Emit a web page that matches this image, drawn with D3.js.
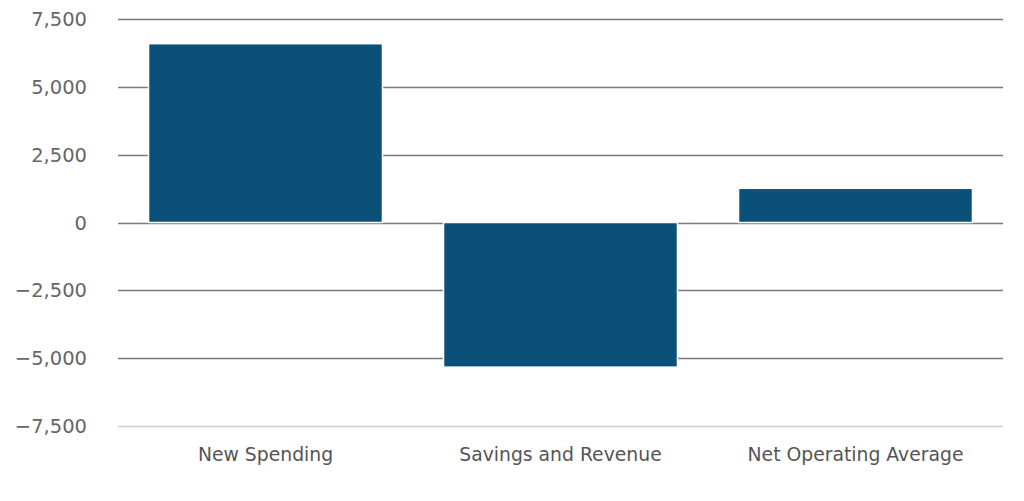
<!DOCTYPE html>
<html>
<head>
<meta charset="utf-8">
<script src="https://cdn.jsdelivr.net/npm/d3@7"></script>
<style>
  body { margin: 0; background: #fff; }
  svg { display: block; font-family: "DejaVu Sans", sans-serif; }
</style>
</head>
<body>
<script>
const categories = ["New Spending", "Savings and Revenue", "Net Operating Average"];
const values = [6590, -5330, 1260];
const yTicks = [-7500, -5000, -2500, 0, 2500, 5000, 7500];

const width = 1024;
const height = 501;
const margin = { top: 19, right: 21, bottom: 75, left: 118 };

const svg = d3.select('body').append('svg')
  .attr('width', width)
  .attr('height', height);

const x = d3.scaleBand()
  .domain(categories)
  .range([margin.left, width - margin.right])
  .paddingInner(0.207)
  .paddingOuter(0.1035);

const y = d3.scaleLinear()
  .domain([-7500, 7500])
  .range([height - margin.bottom, margin.top]);

const fmt = d => d < 0 ? '\u2212' + d3.format(',')(-d) : d3.format(',')(d);

// gridlines
svg.append('g')
  .selectAll('line')
  .data(yTicks.filter(d => d !== -7500))
  .join('line')
  .attr('x1', margin.left)
  .attr('x2', width - margin.right)
  .attr('y1', d => Math.round(y(d)) + 0.5)
  .attr('y2', d => Math.round(y(d)) + 0.5)
  .attr('stroke', '#7a7a7a')
  .attr('stroke-width', 1.6);

// bottom axis line
svg.append('line')
  .attr('x1', margin.left)
  .attr('x2', width - margin.right)
  .attr('y1', Math.round(y(-7500)) + 0.5)
  .attr('y2', Math.round(y(-7500)) + 0.5)
  .attr('stroke', '#c8d2dc')
  .attr('stroke-width', 1.5);

// y labels
svg.append('g')
  .selectAll('text')
  .data(yTicks)
  .join('text')
  .attr('x', 87)
  .attr('y', d => y(d))
  .attr('dy', '0.36em')
  .attr('text-anchor', 'end')
  .attr('fill', '#666')
  .attr('font-size', 19.5)
  .text(fmt);

// bars
svg.append('g')
  .selectAll('rect')
  .data(values)
  .join('rect')
  .attr('x', (d, i) => x(categories[i]))
  .attr('width', x.bandwidth())
  .attr('y', d => y(Math.max(0, d)))
  .attr('height', d => Math.abs(y(d) - y(0)))
  .attr('fill', '#0a5078')
  .attr('stroke', '#fff')
  .attr('stroke-width', 1.5);

// x labels
svg.append('g')
  .selectAll('text')
  .data(categories)
  .join('text')
  .attr('x', d => x(d) + x.bandwidth() / 2)
  .attr('y', 461)
  .attr('text-anchor', 'middle')
  .attr('fill', '#555')
  .attr('font-size', 18.8)
  .text(d => d);
</script>
</body>
</html>
